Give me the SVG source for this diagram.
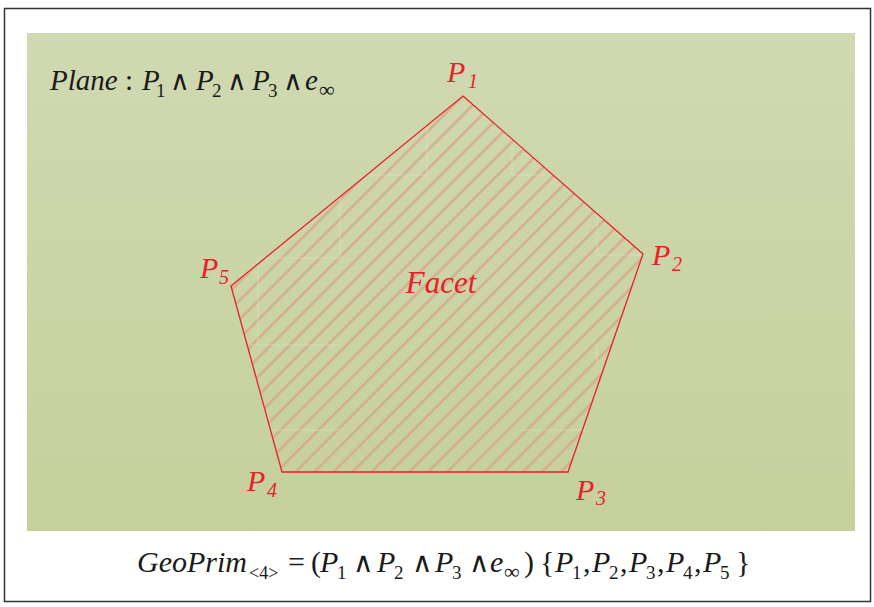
<svg xmlns="http://www.w3.org/2000/svg" width="874" height="607" viewBox="0 0 874 607">
<defs>
<linearGradient id="bg" x1="0" y1="0" x2="0" y2="1">
<stop offset="0" stop-color="#d0d9b1"/>
<stop offset="1" stop-color="#c5d09c"/>
</linearGradient>
<pattern id="hatch" patternUnits="userSpaceOnUse" width="13.4" height="13.4" patternTransform="rotate(-45)">
<line x1="0" y1="6.7" x2="13.4" y2="6.7" stroke="#d8a487" stroke-width="2.6" stroke-opacity="0.8"/>
</pattern>
</defs>
<rect x="0" y="0" width="874" height="607" fill="#ffffff"/>
<rect x="4.5" y="8.5" width="866" height="593" fill="#ffffff" stroke="#333" stroke-width="1.5"/>
<rect x="27" y="33" width="828" height="498" fill="url(#bg)"/>
<g id="facet">
<polygon points="463,96 643,254 568,472 282,472 231,286" fill="url(#hatch)"/>
<path d="M427,128V175H370M512,145V175H545M340,195V258H258V345H250M258,345H340M597,210V255H640M270,430H340M520,430H585M597,345V365" stroke="#e4e8c8" stroke-width="1" fill="none" opacity="0.55"/>
<polygon points="463,96 643,254 568,472 282,472 231,286" fill="none" stroke="#e8202a" stroke-width="1.3"/>
<text font-family="Liberation Serif" font-style="italic" fill="#e8202a" x="441" y="293" font-size="31" text-anchor="middle">Facet</text>
</g>
<g id="labels" fill="#e8202a" font-size="30" font-family="Liberation Serif" font-style="italic">
<g id="p1"><text y="82"><tspan x="447">P</tspan><tspan x="468" y="88" font-size="20">1</tspan></text></g>
<g id="p2"><text y="265"><tspan x="652">P</tspan><tspan x="672" y="271" font-size="20">2</tspan></text></g>
<g id="p3"><text y="500"><tspan x="576">P</tspan><tspan x="596" y="505" font-size="20">3</tspan></text></g>
<g id="p4"><text y="491"><tspan x="247">P</tspan><tspan x="267" y="497" font-size="20">4</tspan></text></g>
<g id="p5"><text y="278"><tspan x="200">P</tspan><tspan x="219" y="284" font-size="20">5</tspan></text></g>
</g>
<g id="plane" fill="#1a1a1a">
<text font-family="Liberation Serif" font-style="italic" y="90" font-size="29"><tspan x="50">Plane</tspan><tspan font-style="normal" x="125">:</tspan><tspan x="142">P</tspan><tspan font-style="normal" x="156" y="97" font-size="19">1</tspan><tspan x="196" y="90">P</tspan><tspan font-style="normal" x="212" y="97" font-size="19">2</tspan><tspan x="252" y="90">P</tspan><tspan font-style="normal" x="268" y="97" font-size="19">3</tspan><tspan x="305" y="90">e</tspan><tspan font-style="normal" x="319" y="97" font-size="22">∞</tspan></text>
<text font-family="DejaVu Serif" font-size="27" y="90"><tspan x="170">∧</tspan><tspan x="227">∧</tspan><tspan x="283">∧</tspan></text>
</g>
<g id="formula" fill="#1a1a1a">
<text font-family="Liberation Serif" font-style="italic" y="572" font-size="30"><tspan x="137">GeoPrim</tspan><tspan font-style="normal" x="249" y="579" font-size="18">&lt;4&gt;</tspan><tspan font-style="normal" x="288" y="572">=</tspan><tspan font-style="normal" x="311">(</tspan><tspan x="320">P</tspan><tspan font-style="normal" x="337" y="579" font-size="19">1</tspan><tspan x="377" y="572">P</tspan><tspan font-style="normal" x="394" y="579" font-size="19">2</tspan><tspan x="435" y="572">P</tspan><tspan font-style="normal" x="452" y="579" font-size="19">3</tspan><tspan x="490" y="572">e</tspan><tspan font-style="normal" x="504" y="579" font-size="22">∞</tspan><tspan font-style="normal" x="524" y="572">)</tspan><tspan font-style="normal" x="540">{</tspan><tspan x="555">P</tspan><tspan font-style="normal" x="572" y="579" font-size="19">1</tspan><tspan font-style="normal" x="583" y="572">,</tspan><tspan x="592">P</tspan><tspan font-style="normal" x="609" y="579" font-size="19">2</tspan><tspan font-style="normal" x="620" y="572">,</tspan><tspan x="629">P</tspan><tspan font-style="normal" x="646" y="579" font-size="19">3</tspan><tspan font-style="normal" x="657" y="572">,</tspan><tspan x="666">P</tspan><tspan font-style="normal" x="683" y="579" font-size="19">4</tspan><tspan font-style="normal" x="694" y="572">,</tspan><tspan x="703">P</tspan><tspan font-style="normal" x="720" y="579" font-size="19">5</tspan><tspan font-style="normal" x="736" y="572">}</tspan></text>
<text font-family="DejaVu Serif" font-size="28" y="572"><tspan x="353">∧</tspan><tspan x="412">∧</tspan><tspan x="469">∧</tspan></text>
</g>
</svg>
